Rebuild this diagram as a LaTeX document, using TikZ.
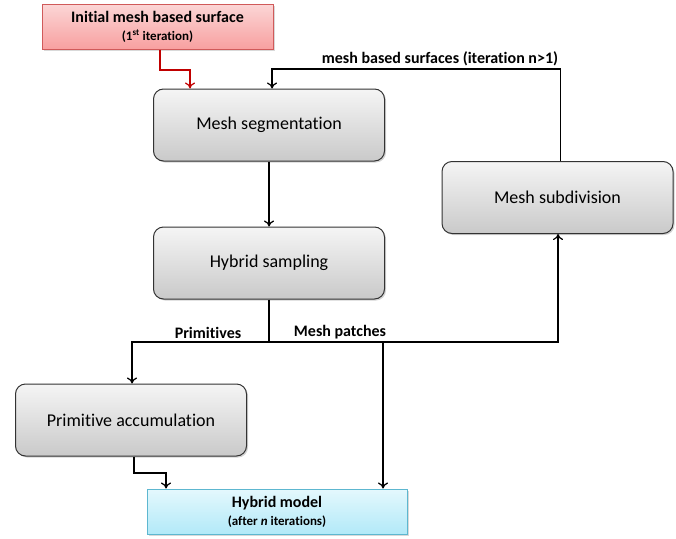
\documentclass[tikz,border=0pt]{standalone}
\usepackage{fontspec}
\setmainfont[Ligatures=NoCommon]{Carlito}
\usetikzlibrary{arrows.meta,shadows}
\definecolor{redfill1}{HTML}{FBD6D6}
\definecolor{redfill2}{HTML}{F8A0A0}
\definecolor{redline}{HTML}{D05A5A}
\definecolor{bluefill1}{HTML}{E4F8FD}
\definecolor{bluefill2}{HTML}{B2E9F8}
\definecolor{blueline}{HTML}{5DB7D0}
\definecolor{arrred}{HTML}{C00000}
\begin{document}
\begin{tikzpicture}[x=1pt,y=-1pt,
  proc/.style={draw=black!80, line width=1pt, rounded corners=10pt,
    top color=gray!8, bottom color=gray!42, minimum width=231pt, minimum height=72pt,
    font=\fontsize{18}{21}\selectfont,
    drop shadow={opacity=0.35, shadow xshift=1.5pt, shadow yshift=-1.5pt}},
  startbox/.style={draw=redline, line width=1pt, top color=redfill1, bottom color=redfill2,
    minimum width=231pt, minimum height=45pt, align=center, inner sep=2pt,
    font=\bfseries\fontsize{16}{18}\selectfont,
    drop shadow={opacity=0.3, shadow xshift=1.5pt, shadow yshift=-1.5pt}},
  endbox/.style={draw=blueline, line width=1pt, top color=bluefill1, bottom color=bluefill2,
    minimum width=260pt, minimum height=45pt, align=center, inner sep=2pt,
    font=\bfseries\fontsize{16}{18}\selectfont,
    drop shadow={opacity=0.3, shadow xshift=1.5pt, shadow yshift=-1.5pt}},
  conn/.style={line width=1.2pt, black, -{To[length=6pt,width=10pt]}},
  plain/.style={line width=1.2pt, black},
  lbl/.style={font=\bfseries\fontsize{16}{19}\selectfont, inner sep=1pt}
]
\useasboundingbox (0,0) rectangle (676,538);

\node[startbox] (init) at (157.5,26.5)
  {Initial mesh based surface\\
   {\fontsize{13}{15}\selectfont (1\textsuperscript{st} iteration)}};
\node[proc] (seg) at (269,125) {Mesh segmentation};
\node[proc] (samp) at (269,263) {Hybrid sampling};
\node[proc] (sub) at (557.5,197.5) {Mesh subdivision};
\node[proc] (prim) at (131,420) {Primitive accumulation};
\node[endbox] (model) at (277,511.5)
  {Hybrid model\\
   {\fontsize{13}{15}\selectfont (after \textit{n} iterations)}};

\coordinate (toprow) at (0,69);
\coordinate (split) at (269,342);
\coordinate (redturn) at (0,70);
\coordinate (primturn) at (0,473);

% red start arrow
\draw[line width=1.2pt, arrred, -{To[length=6pt,width=10pt]}]
  ([xshift=2.5pt]init.south) -- ([xshift=2.5pt]init.south |- redturn)
  -| ([xshift=-79pt]seg.north);

% feedback loop
\draw[conn] ([xshift=3pt]sub.north) -- ([xshift=3pt]sub.north |- toprow)
  -| ([xshift=3pt]seg.north);
\node[lbl, anchor=south] at (440,67) {mesh based surfaces (iteration n\textgreater1)};

\draw[conn] (seg.south) -- (samp.north);
\draw[plain] (samp.south) -- (split);
\draw[conn] (split) -| ([xshift=1pt]prim.north);
\draw[conn] (split) -| ([xshift=0.5pt]sub.south);
\draw[conn] ([xshift=106pt]model.north |- split) -- ([xshift=106pt]model.north);
\node[lbl, anchor=south] at (208,340) {Primitives};
\node[lbl, anchor=south] at (340,340) {Mesh patches};

\draw[conn] ([xshift=3pt]prim.south) -- ([xshift=3pt]prim.south |- primturn)
  -| ([xshift=-111pt]model.north);
\end{tikzpicture}
\end{document}
